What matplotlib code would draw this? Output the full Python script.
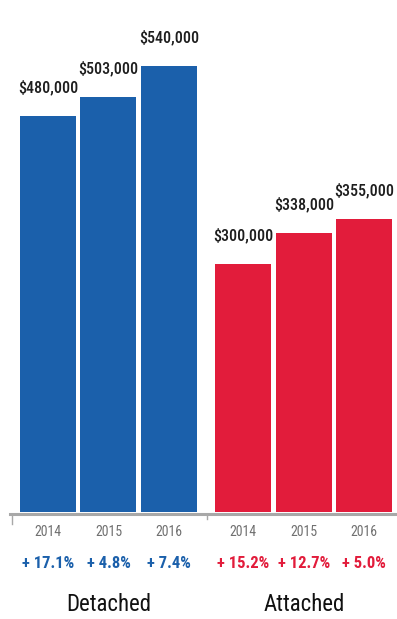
import matplotlib.pyplot as plt
import numpy as np

years = ["2014", "2015", "2016"]
detached = [480000, 503000, 540000]
attached = [300000, 338000, 355000]
det_change = ["+ 17.1%", "+ 4.8%", "+ 7.4%"]
att_change = ["+ 15.2%", "+ 12.7%", "+ 5.0%"]
groups = ["Detached", "Attached"]

plt.rcParams["font.family"] = ["Roboto Condensed", "DejaVu Sans"]

blue = "#1b60ab"
red = "#e21c3b"

fig = plt.figure(figsize=(3.97, 6.19), dpi=100)
ax = fig.add_axes([0, 107 / 619, 1, 512 / 619])

xd = np.arange(3)
xa = np.arange(3) + 3.23
w = 0.925
ax.bar(xd, detached, width=w, color=blue)
ax.bar(xa, attached, width=w, color=red)

for x, v in zip(list(xd) + list(xa), detached + attached):
    ax.annotate("${:,}".format(v), (x, v), xytext=(0, 17), textcoords="offset points",
                ha="center", va="baseline", fontsize=11.5, fontweight=500, color="#1e1e1e")

ax.set_xlim(-0.793, 5.77)
ax.set_ylim(0, 620000)
ax.axis("off")

# baseline and divider ticks
ax.plot([-0.63, 5.77], [-2500, -2500], color="#a8a8a8", lw=2.2, clip_on=False)
ax.plot([-0.59, -0.59], [-2500, -14000], color="#a8a8a8", lw=1, clip_on=False)
ax.plot([2.63, 2.63], [-2500, -9000], color="#a8a8a8", lw=1, clip_on=False)

for x, yr, ch in zip(xd, years, det_change):
    ax.text(x, -24200, yr, ha="center", va="center", fontsize=10, color="#707070")
    ax.text(x, -61800, ch, ha="center", va="center", fontsize=12, fontweight="bold", color=blue)
for x, yr, ch in zip(xa, years, att_change):
    ax.text(x, -24200, yr, ha="center", va="center", fontsize=10, color="#707070")
    ax.text(x, -61800, ch, ha="center", va="center", fontsize=12, fontweight="bold", color=red)

ax.text(xd.mean(), -112600, groups[0], ha="center", va="center", fontsize=16.5, color="#111111")
ax.text(xa.mean(), -112600, groups[1], ha="center", va="center", fontsize=16.5, color="#111111")

fig.savefig("out.png", dpi=100)
